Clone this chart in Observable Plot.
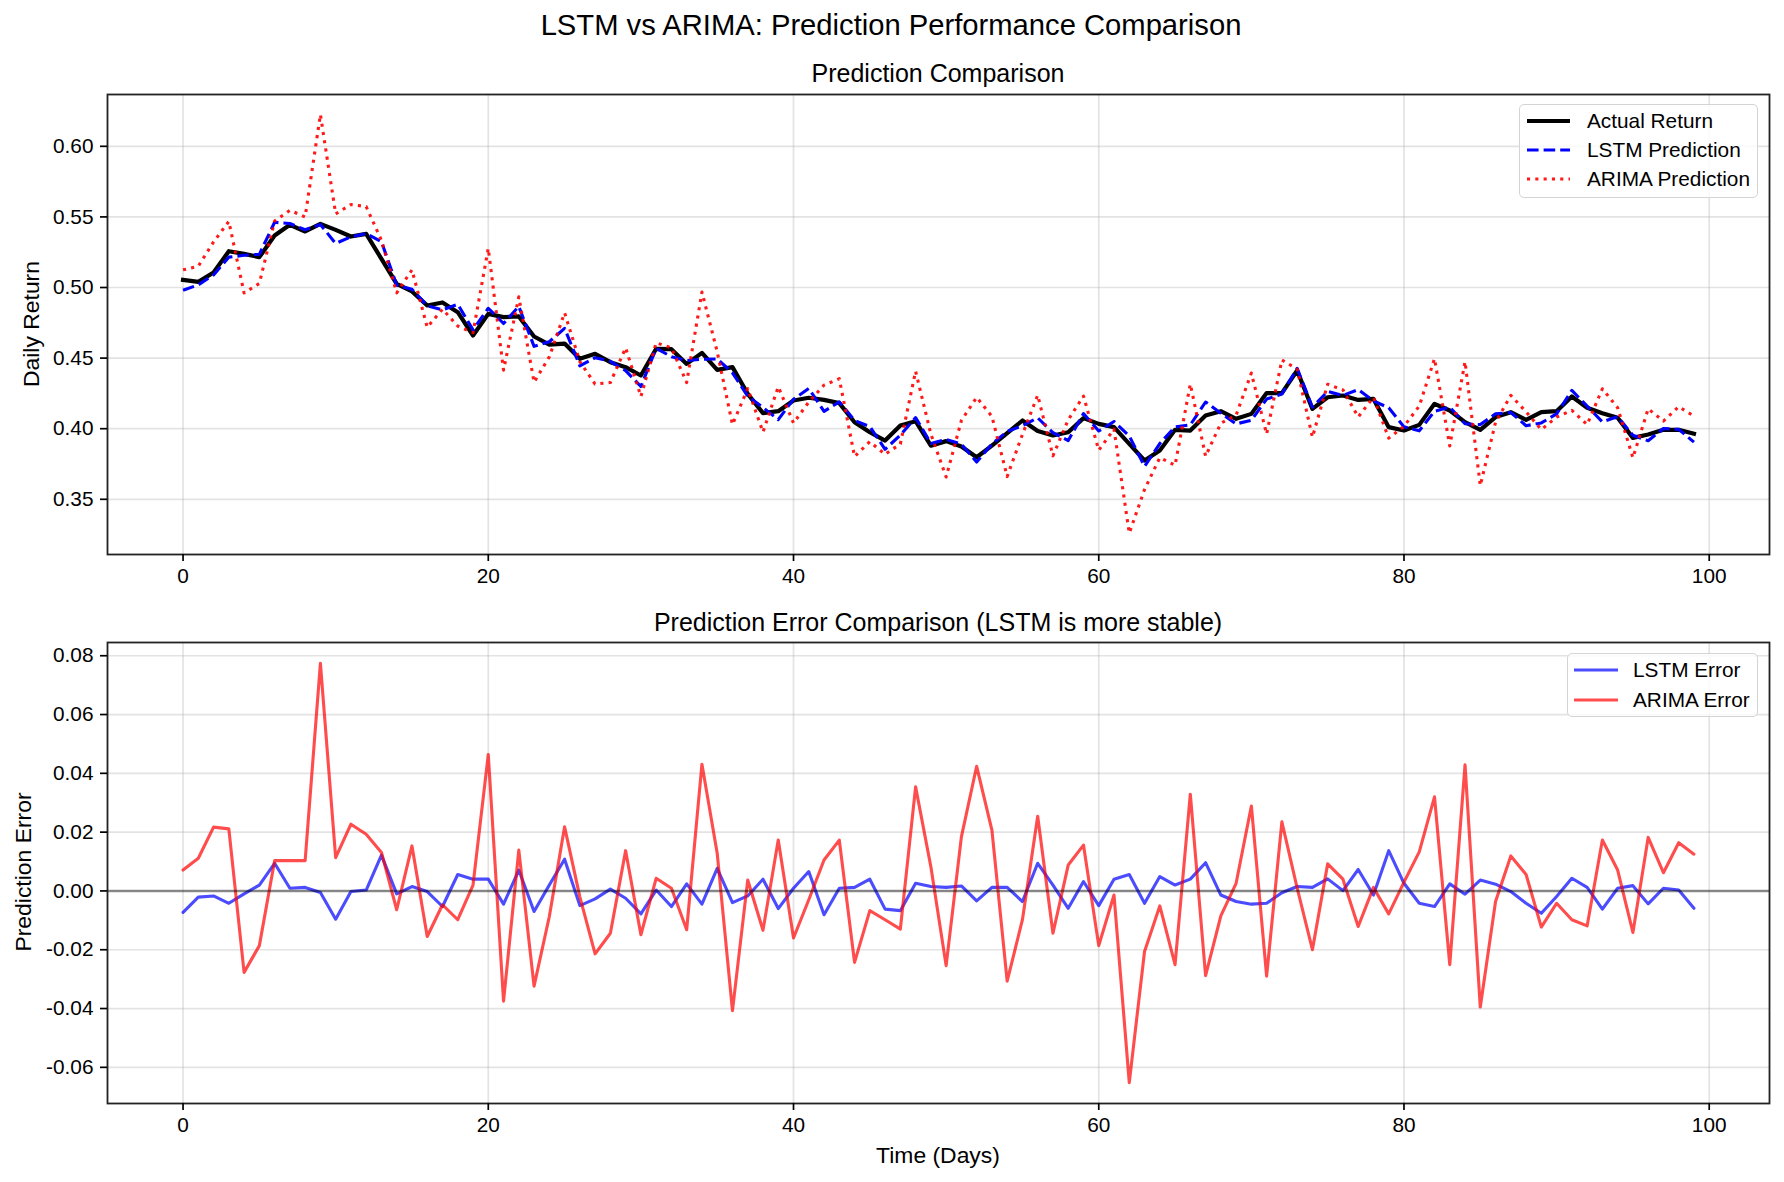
<!DOCTYPE html>
<html>
<head>
<meta charset="utf-8">
<script src="https://cdn.jsdelivr.net/npm/d3@7"></script>
<script src="https://cdn.jsdelivr.net/npm/@observablehq/plot@0.6"></script>
<style>
  html, body { margin: 0; padding: 0; background: #fff; }
  #fig { position: relative; width: 1784px; height: 1182px; overflow: hidden; font-family: "Liberation Sans", Arial, Helvetica, sans-serif; color: #000; }
  .t { position: absolute; white-space: nowrap; line-height: 1; transform: translate(-50%, -50%); }
  .leg { position: absolute; box-sizing: border-box; background: rgba(255,255,255,0.8); border: 1.5px solid #d4d4d4; border-radius: 5px; }
  .leg svg { position: absolute; left: 0; top: 0; overflow: visible; }
  .leg span { position: absolute; font-size: 20.8px; line-height: 1; transform: translateY(-50%); white-space: nowrap; }
</style>
</head>
<body>
<div id="fig"></div>
<script>
// ---- Data ----
const actualReturn = [
0.5054,0.5040,0.5106,0.5257,0.5238,0.5215,0.5368,0.5444,0.5397,0.5451,
0.5408,0.5361,0.5380,0.5203,0.5026,0.4972,0.4873,0.4894,0.4825,0.4660,
0.4813,0.4790,0.4795,0.4653,0.4596,0.4603,0.4495,0.4530,0.4471,0.4436,
0.4377,0.4566,0.4563,0.4459,0.4537,0.4417,0.4436,0.4247,0.4110,0.4124,
0.4200,0.4219,0.4204,0.4181,0.4046,0.3975,0.3916,0.4022,0.4053,0.3880,
0.3912,0.3874,0.3798,0.3880,0.3968,0.4058,0.3983,0.3952,0.3975,0.4075,
0.4034,0.4011,0.3893,0.3775,0.3846,0.3992,0.3987,0.4093,0.4124,0.4070,
0.4105,0.4252,0.4252,0.4412,0.4140,0.4223,0.4235,0.4204,0.4211,0.4011,
0.3987,0.4027,0.4176,0.4129,0.4046,0.3992,0.4082,0.4117,0.4063,0.4117,
0.4124,0.4228,0.4148,0.4110,0.4077,0.3935,0.3959,0.3992,0.3992,0.3964];

const lstmPrediction = [
0.4981,0.5019,0.5089,0.5215,0.5228,0.5235,0.5462,0.5453,0.5409,0.5446,
0.5312,0.5359,0.5383,0.5325,0.5016,0.4987,0.4871,0.4841,0.4881,0.4700,
0.4853,0.4745,0.4866,0.4583,0.4616,0.4711,0.4445,0.4503,0.4477,0.4411,
0.4299,0.4569,0.4510,0.4483,0.4492,0.4494,0.4396,0.4230,0.4150,0.4064,
0.4209,0.4285,0.4123,0.4190,0.4058,0.4015,0.3854,0.3955,0.4079,0.3895,
0.3924,0.3891,0.3764,0.3892,0.3980,0.4022,0.4077,0.3972,0.3916,0.4107,
0.3984,0.4051,0.3949,0.3733,0.3895,0.4012,0.4027,0.4189,0.4110,0.4034,
0.4060,0.4210,0.4246,0.4427,0.4152,0.4264,0.4236,0.4277,0.4197,0.4148,
0.4013,0.3985,0.4123,0.4153,0.4035,0.4029,0.4105,0.4115,0.4021,0.4041,
0.4105,0.4271,0.4160,0.4048,0.4086,0.3953,0.3915,0.4001,0.3995,0.3905];

const arimaPrediction = [
0.5125,0.5151,0.5323,0.5468,0.4961,0.5029,0.5471,0.5547,0.5500,0.6225,
0.5521,0.5588,0.5573,0.5334,0.4962,0.5125,0.4718,0.4847,0.4727,0.4680,
0.5277,0.4415,0.4934,0.4329,0.4509,0.4821,0.4475,0.4316,0.4327,0.4573,
0.4228,0.4609,0.4572,0.4327,0.4968,0.4545,0.4029,0.4284,0.3976,0.4297,
0.4040,0.4189,0.4309,0.4354,0.3803,0.3908,0.3818,0.3892,0.4407,0.3962,
0.3658,0.4058,0.4222,0.4087,0.3661,0.3960,0.4237,0.3808,0.4063,0.4231,
0.3848,0.3997,0.3260,0.3569,0.3795,0.3741,0.4316,0.3805,0.4039,0.4096,
0.4394,0.3962,0.4487,0.4422,0.3940,0.4315,0.4275,0.4083,0.4223,0.3933,
0.4017,0.4160,0.4496,0.3878,0.4475,0.3597,0.4046,0.4236,0.4119,0.3994,
0.4082,0.4130,0.4029,0.4283,0.4148,0.3794,0.4141,0.4054,0.4156,0.4089];

const lstmError = [
-0.0073,-0.0021,-0.0017,-0.0042,-0.0010,0.0020,0.0094,0.0009,0.0012,-0.0005,
-0.0096,-0.0002,0.0003,0.0122,-0.0010,0.0015,-0.0002,-0.0053,0.0056,0.0040,
0.0040,-0.0045,0.0071,-0.0070,0.0020,0.0108,-0.0050,-0.0027,0.0006,-0.0025,
-0.0078,0.0003,-0.0053,0.0024,-0.0045,0.0077,-0.0040,-0.0017,0.0040,-0.0060,
0.0009,0.0066,-0.0081,0.0009,0.0012,0.0040,-0.0062,-0.0067,0.0026,0.0015,
0.0012,0.0017,-0.0034,0.0012,0.0012,-0.0036,0.0094,0.0020,-0.0059,0.0032,
-0.0050,0.0040,0.0056,-0.0042,0.0049,0.0020,0.0040,0.0096,-0.0014,-0.0036,
-0.0045,-0.0042,-0.0006,0.0015,0.0012,0.0041,0.0001,0.0073,-0.0014,0.0137,
0.0026,-0.0042,-0.0053,0.0024,-0.0011,0.0037,0.0023,-0.0002,-0.0042,-0.0076,
-0.0019,0.0043,0.0012,-0.0062,0.0009,0.0018,-0.0044,0.0009,0.0003,-0.0059];

const arimaError = [
0.0071,0.0111,0.0217,0.0211,-0.0277,-0.0186,0.0103,0.0103,0.0103,0.0774,
0.0113,0.0227,0.0193,0.0131,-0.0064,0.0153,-0.0155,-0.0047,-0.0098,0.0020,
0.0464,-0.0375,0.0139,-0.0324,-0.0087,0.0218,-0.0020,-0.0214,-0.0144,0.0137,
-0.0149,0.0043,0.0009,-0.0132,0.0431,0.0128,-0.0407,0.0037,-0.0134,0.0173,
-0.0160,-0.0030,0.0105,0.0173,-0.0243,-0.0067,-0.0098,-0.0130,0.0354,0.0082,
-0.0254,0.0184,0.0424,0.0207,-0.0307,-0.0098,0.0254,-0.0144,0.0088,0.0156,
-0.0186,-0.0014,-0.0652,-0.0206,-0.0051,-0.0251,0.0329,-0.0288,-0.0085,0.0026,
0.0289,-0.0290,0.0235,0.0010,-0.0200,0.0092,0.0040,-0.0121,0.0012,-0.0078,
0.0030,0.0133,0.0320,-0.0251,0.0429,-0.0395,-0.0036,0.0119,0.0056,-0.0123,
-0.0042,-0.0098,-0.0119,0.0173,0.0071,-0.0141,0.0182,0.0062,0.0164,0.0125];

const xTicks = [0, 20, 40, 60, 80, 100];
const yTicksTop = [0.35, 0.40, 0.45, 0.50, 0.55, 0.60];
const yTicksBottom = [-0.06, -0.04, -0.02, 0.00, 0.02, 0.04, 0.06, 0.08];

// ---- Build tables ----
const rows = actualReturn.map((v, i) => ({
  day: i, actual: v, lstm: lstmPrediction[i], arima: arimaPrediction[i],
  lstmErr: lstmError[i], arimaErr: arimaError[i]
}));

const FONT = '"Liberation Sans", Arial, Helvetica, sans-serif';
const fig = document.getElementById("fig");
const fmt = d => d.toFixed(2);
const gridStyle = {stroke: "#b0b0b0", strokeOpacity: 0.35, strokeWidth: 1.7};
const axisStyle = {tickSize: 7, tickPadding: 7, fontSize: 20.8, strokeWidth: 1.7, label: null};

const topPlot = Plot.plot({
  width: 1784, height: 600,
  marginLeft: 107, marginRight: 15, marginTop: 94, marginBottom: 46,
  style: {fontFamily: FONT, fontSize: "20.8px", color: "#000", background: "transparent", overflow: "visible"},
  x: {domain: [-4.95, 103.95]},
  y: {domain: [0.3109, 0.6367]},
  marks: [
    Plot.gridX(xTicks, gridStyle),
    Plot.gridY(yTicksTop, gridStyle),
    Plot.line(rows, {x: "day", y: "actual", stroke: "black", strokeWidth: 4.2, strokeLinecap: "square"}),
    Plot.line(rows, {x: "day", y: "lstm", stroke: "#0000ff", strokeWidth: 3.1, strokeDasharray: "11.6,5", strokeLinecap: "butt"}),
    Plot.line(rows, {x: "day", y: "arima", stroke: "#ff0000", strokeOpacity: 0.9, strokeWidth: 3.1, strokeDasharray: "3.1,5.2", strokeLinecap: "butt"}),
    Plot.frame({stroke: "#222", strokeWidth: 1.8}),
    Plot.axisX(xTicks, {...axisStyle}),
    Plot.axisY(yTicksTop, {...axisStyle, tickFormat: fmt})
  ]
});
topPlot.style.position = "absolute"; topPlot.style.left = "0px"; topPlot.style.top = "0px";
fig.appendChild(topPlot);

const bottomPlot = Plot.plot({
  width: 1784, height: 582,
  marginLeft: 107, marginRight: 15, marginTop: 42, marginBottom: 79,
  style: {fontFamily: FONT, fontSize: "20.8px", color: "#000", background: "transparent", overflow: "visible"},
  x: {domain: [-4.95, 103.95]},
  y: {domain: [-0.0723, 0.0845]},
  marks: [
    Plot.gridX(xTicks, gridStyle),
    Plot.gridY(yTicksBottom, gridStyle),
    Plot.line(rows, {x: "day", y: "lstmErr", stroke: "#0000ff", strokeOpacity: 0.7, strokeWidth: 3.1}),
    Plot.line(rows, {x: "day", y: "arimaErr", stroke: "#ff0000", strokeOpacity: 0.7, strokeWidth: 3.1}),
    Plot.ruleY([0], {stroke: "black", strokeOpacity: 0.42, strokeWidth: 2.4}),
    Plot.frame({stroke: "#222", strokeWidth: 1.8}),
    Plot.axisX(xTicks, {...axisStyle}),
    Plot.axisY(yTicksBottom, {...axisStyle, tickFormat: fmt})
  ]
});
bottomPlot.style.position = "absolute"; bottomPlot.style.left = "0px"; bottomPlot.style.top = "600px";
fig.appendChild(bottomPlot);

// ---- Texts ----
function addText(txt, x, y, size, rotate) {
  const d = document.createElement("div");
  d.className = "t";
  d.textContent = txt;
  d.style.left = x + "px";
  d.style.top = y + "px";
  d.style.fontSize = size + "px";
  if (rotate) d.style.transform = "translate(-50%, -50%) rotate(-90deg)";
  fig.appendChild(d);
}
addText("LSTM vs ARIMA: Prediction Performance Comparison", 891, 26, 29.2);
addText("Prediction Comparison", 938, 73, 25);
addText("Prediction Error Comparison (LSTM is more stable)", 938, 622, 25);
addText("Daily Return", 31, 324, 22.9, true);
addText("Prediction Error", 23, 872, 22.9, true);
addText("Time (Days)", 938, 1155, 22.9);

// ---- Legends ----
function addLegend(items, left, topY, w, h, hx0, hx1, tx, rowY) {
  const box = document.createElement("div");
  box.className = "leg";
  box.style.left = left + "px"; box.style.top = topY + "px";
  box.style.width = w + "px"; box.style.height = h + "px";
  const ns = "http://www.w3.org/2000/svg";
  const svg = document.createElementNS(ns, "svg");
  svg.setAttribute("width", w); svg.setAttribute("height", h);
  items.forEach((it, i) => {
    const ln = document.createElementNS(ns, "line");
    ln.setAttribute("x1", hx0); ln.setAttribute("x2", hx1);
    ln.setAttribute("y1", rowY[i]); ln.setAttribute("y2", rowY[i]);
    ln.setAttribute("stroke", it.color);
    ln.setAttribute("stroke-width", it.width);
    if (it.opacity) ln.setAttribute("stroke-opacity", it.opacity);
    if (it.dash) ln.setAttribute("stroke-dasharray", it.dash);
    ln.setAttribute("stroke-linecap", "butt");
    svg.appendChild(ln);
    const s = document.createElement("span");
    s.textContent = it.label;
    s.style.left = tx + "px"; s.style.top = rowY[i] + "px";
    box.appendChild(s);
  });
  box.appendChild(svg);
  fig.appendChild(box);
}
addLegend([
  {label: "Actual Return", color: "black", width: 4.2},
  {label: "LSTM Prediction", color: "#0000ff", width: 3.1, dash: "11.6,5"},
  {label: "ARIMA Prediction", color: "#ff0000", width: 3.1, dash: "3.1,5.2", opacity: 0.9}
], 1519, 104, 239, 94, 7, 50, 67, [16, 45, 74]);
addLegend([
  {label: "LSTM Error", color: "#0000ff", width: 3.1, opacity: 0.7},
  {label: "ARIMA Error", color: "#ff0000", width: 3.1, opacity: 0.7}
], 1567, 653, 191, 64, 6, 50, 65, [16, 46]);
</script>
</body>
</html>
